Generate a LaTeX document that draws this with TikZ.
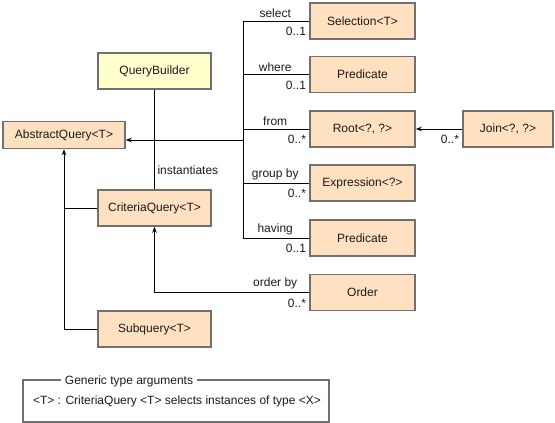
\documentclass[tikz,border=0pt]{standalone}
\usepackage{fontspec}
\setmainfont{Liberation Sans}
\usetikzlibrary{arrows.meta}

\definecolor{peach}{HTML}{FFE0C0}
\definecolor{paleyellow}{HTML}{FFFFCC}
\definecolor{boxgray}{HTML}{707070}
\definecolor{inkgray}{HTML}{1A1A1A}

\tikzset{
  classbox/.style={draw=boxgray, fill=peach, line width=1.6pt, minimum width=#1, minimum height=36pt, inner sep=0pt, text=inkgray},
  classbox/.default=105pt,
  builderbox/.style={classbox=113pt, fill=paleyellow},
  assoc/.style={line width=1pt},
  arr/.style={assoc, -{Stealth[length=6pt,width=4.5pt]}},
  rolelbl/.style={above, inner sep=2pt, yshift=1pt, text=inkgray},
  multlbl/.style={below left, inner sep=2pt, xshift=-1pt, yshift=-4pt, text=inkgray}
}

\begin{document}
\begin{tikzpicture}[x=1pt, y=-1pt, font=\fontsize{12}{14}\selectfont]
        \useasboundingbox (0,0) rectangle (555,423);

        % Query side
        \node[builderbox] (qb) at (154.5,71) {QueryBuilder};
        \node[classbox=122pt, minimum height=27pt] (aq) at (64,135) {AbstractQuery<T>};
        \node[classbox=113pt] (cq) at (154.5,208) {CriteriaQuery<T>};
        \node[classbox=113pt] (sq) at (154.5,329) {Subquery<T>};

        % Clause boxes
        \node[classbox] (sel) at (362.5,21) {Selection<T>};
        \node[classbox] (whr) at (362.5,74.5) {Predicate};
        \node[classbox] (root) at (362.5,129) {Root<?, ?>};
        \node[classbox] (expr) at (362.5,183) {Expression<?>};
        \node[classbox] (hav) at (362.5,238) {Predicate};
        \node[classbox] (ord) at (362.5,292.5) {Order};
        \node[classbox=90pt] (join) at (508,129) {Join<?, ?>};

        % Bus of clauses
        \coordinate (bus) at (243,0);
        \coordinate (busmid) at (243,140);
        \draw[assoc] (sel.west) -- (sel.west -| bus) -- (hav.west -| bus) -- (hav.west);
        \draw[assoc] (whr.west) -- (whr.west -| bus);
        \draw[assoc] (root.west) -- (root.west -| bus);
        \draw[assoc] (expr.west) -- (expr.west -| bus);
        \draw[arr] (busmid) -- (busmid -| aq.east);

        % Role names and multiplicities
        \node[rolelbl] (selrole) at ([xshift=-34pt]sel.west) {select};
        \node[multlbl] (selmult) at (sel.west) {0..1};
        \node[rolelbl] (whrrole) at ([xshift=-34pt]whr.west) {where};
        \node[multlbl] (whrmult) at (whr.west) {0..1};
        \node[rolelbl] (rootrole) at ([xshift=-34pt]root.west) {from};
        \node[multlbl] (rootmult) at (root.west) {0..*};
        \node[rolelbl] (exprrole) at ([xshift=-34pt]expr.west) {group by};
        \node[multlbl] (exprmult) at (expr.west) {0..*};
        \node[rolelbl] (havrole) at ([xshift=-34pt]hav.west) {having};
        \node[multlbl] (havmult) at (hav.west) {0..1};

        % Order by
        \draw[arr] (ord.west) -| (cq.south);
        \node[rolelbl] (ordrole) at ([xshift=-34pt]ord.west) {order by};
        \node[multlbl] (ordmult) at (ord.west) {0..*};

        % Join
        \draw[arr] (join.west) -- (root.east);
        \node[multlbl] (joinmult) at (join.west) {0..*};

        % Builder instantiates
        \draw[assoc] (qb.south) -- (cq.north);
        \node[right, text=inkgray] (inst) at (154,170) {instantiates};

        % Inheritance of queries
        \draw[arr] (sq.west) -| (aq.south);
        \draw[assoc] (cq.west) -- (cq.west -| aq.south);

        % Legend
        \draw[boxgray, line width=1.4pt] (23,380) rectangle (329,422);
        \node[fill=white, inner sep=4pt, text=inkgray] (legtitle) at (129,381) {Generic type arguments};
        \node[text=inkgray] (legtext) at (177,401) {<T> : CriteriaQuery <T> selects instances of type <X>};
\end{tikzpicture}
\end{document}
